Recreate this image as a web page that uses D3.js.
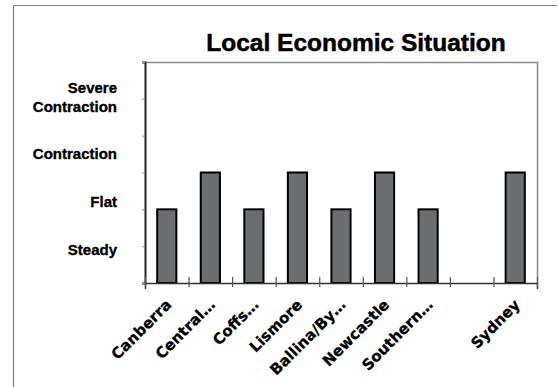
<!DOCTYPE html>
<html><head><meta charset="utf-8">
<script src="https://cdn.jsdelivr.net/npm/d3@7"></script>
<style>html,body{margin:0;padding:0;background:#fff;}svg{display:block;}</style>
</head><body>
<svg id="c" width="559" height="387"></svg>
<script>
const categories = ["Canberra","Central…","Coffs…","Lismore","Ballina/By…","Newcastle","Southern…","","Sydney"];
const values = [2,3,2,3,2,3,2,null,3];
const yLabels = ["Steady","Flat","Contraction","Severe\nContraction"];
const yLabelValues = [0.9, 2.2, 3.5, 5.05];
const title = "Local Economic Situation";

const svg = d3.select("#c");
const font = "'Liberation Sans', Arial, sans-serif";
const font2 = "'DejaVu Sans', sans-serif";
// outer frame (top & left only visible)
svg.append("line").attr("x1",13.5).attr("x2",557).attr("y1",5.5).attr("y2",5.5).attr("stroke","#808080").attr("stroke-width",1.2);
svg.append("line").attr("x1",13.5).attr("x2",13.5).attr("y1",5.5).attr("y2",387).attr("stroke","#808080").attr("stroke-width",1.2);

const L=145, R=537, T=62, B=283;
const x = d3.scaleBand().domain(categories.map((c,i)=>i)).range([L,R]);
const y = d3.scaleLinear().domain([0,6]).range([B,T]);

// plot border top/right
svg.append("path").attr("d",`M${L},${T+0.5}H${R+0.5}V${B}`).attr("fill","none").attr("stroke","#8a8a8a").attr("stroke-width",1.5);

// bars
const bw = x.bandwidth()*0.44;
svg.append("g").selectAll("rect").data(values.map((v,i)=>({v,i})).filter(d=>d.v!=null)).join("rect")
  .attr("x",d=>x(d.i)+x.bandwidth()/2-bw/2)
  .attr("y",d=>y(d.v))
  .attr("width",bw)
  .attr("height",d=>y(0)-y(d.v))
  .attr("fill","#6c6f71").attr("stroke","#000").attr("stroke-width",2);

// y axis ticks
const yAxis = d3.axisLeft(y).ticks(6).tickSize(3).tickFormat("");
const gy = svg.append("g").attr("transform",`translate(${L},0)`).call(yAxis);
gy.select(".domain").attr("stroke","#222").attr("stroke-width",2);
gy.selectAll(".tick line").attr("stroke","#999");

// x axis
const xAxis = d3.axisBottom(d3.scaleLinear().domain([0,categories.length]).range([L,R])).ticks(categories.length).tickSize(6).tickFormat("");
const gx = svg.append("g").attr("transform",`translate(0,${B})`).call(xAxis);
gx.select(".domain").attr("stroke","#333").attr("stroke-width",1.5);
gx.selectAll(".tick line").attr("y1",-6).attr("y2",4).attr("stroke","#555").attr("stroke-width",1.2);

// x labels
svg.append("g").selectAll("text").data(categories).join("text")
  .attr("transform",(d,i)=>`translate(${x(i)+x.bandwidth()/2+2},${B+19}) rotate(-45)`)
  .attr("text-anchor","end").attr("dy","0.35em")
  .attr("font-family",font2).attr("font-weight","bold").attr("font-size",15)
  .attr("stroke","#000").attr("stroke-width",0.3)
  .text(d=>d);

// y labels
const yl = svg.append("g").selectAll("text").data(yLabels).join("text")
  .attr("text-anchor","end").attr("font-family",font).attr("font-weight","bold").attr("font-size",15)
  .attr("stroke","#000").attr("stroke-width",0.35)
  .attr("x",117);
yl.each(function(d,i){
  const lines = d.split("\n");
  const t = d3.select(this);
  const cy = y(yLabelValues[i]);
  lines.forEach((ln,j)=>{
    t.append("tspan").attr("x",117).attr("y",cy + (j-(lines.length-1)/2)*19).attr("dy","0.35em").text(ln);
  });
});

// title
svg.append("text").attr("x",356).attr("y",51).attr("text-anchor","middle")
  .attr("font-family",font).attr("font-weight","bold").attr("font-size",24.5)
  .attr("stroke","#000").attr("stroke-width",0.5).text(title);
</script>
</body></html>
